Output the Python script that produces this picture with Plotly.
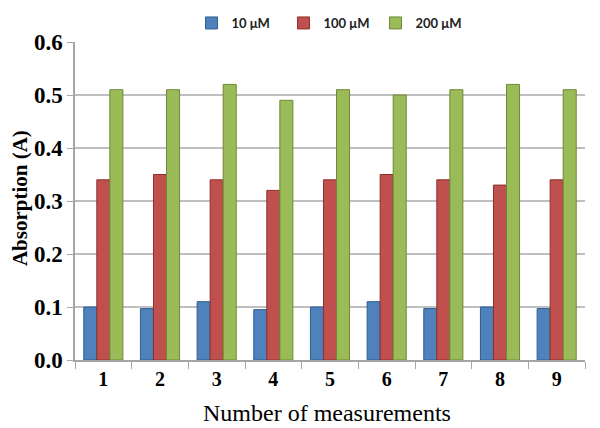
import plotly.graph_objects as go

categories = ["1", "2", "3", "4", "5", "6", "7", "8", "9"]
series_names = ["10 \u03bcM", "100 \u03bcM", "200 \u03bcM"]
vals_10 = [0.100, 0.097, 0.110, 0.095, 0.100, 0.110, 0.097, 0.100, 0.097]
vals_100 = [0.34, 0.35, 0.34, 0.32, 0.34, 0.35, 0.34, 0.33, 0.34]
vals_200 = [0.51, 0.51, 0.52, 0.49, 0.51, 0.50, 0.51, 0.52, 0.51]
colors = ["#4F81BD", "#C0504D", "#9BBB59"]
edge_colors = ["#2F5F8F", "#8E2F2C", "#6B8A35"]

fig = go.Figure()
for name, vals, c, ec in zip(series_names, [vals_10, vals_100, vals_200], colors, edge_colors):
    fig.add_trace(go.Bar(x=categories, y=vals, name=name,
                         marker=dict(color=c, line=dict(color=ec, width=1))))

# page body has an 8px margin, so the figure is sized 592x420
fig.update_layout(
    width=592, height=420,
    margin=dict(l=67, r=15, t=34, b=68, autoexpand=False),
    paper_bgcolor="white", plot_bgcolor="white",
    barmode="group", bargap=0.31, bargroupgap=0.0,
    showlegend=True,
    legend=dict(orientation="h", x=0.31, xanchor="left", xref="container",
                y=1.0, yanchor="top", yref="container",
                font=dict(family="Lato", size=13, color="#222", weight="bold"),
                entrywidth=47, entrywidthmode="pixels",
                tracegroupgap=0, traceorder="normal", itemwidth=30),
    xaxis=dict(type="category", showline=True, linecolor="#A6A6A6", linewidth=1.5,
               ticks="outside", tickson="boundaries", tickcolor="#A6A6A6", ticklen=7,
               tickfont=dict(family="Liberation Serif", size=20, color="black", weight="bold")),
    yaxis=dict(range=[0, 0.6], dtick=0.1, tickformat=".1f", showline=True,
               linecolor="#A6A6A6", linewidth=1.5, ticks="outside", tickcolor="#A6A6A6",
               ticklen=6, showgrid=True, gridcolor="#BFBFBF", gridwidth=1.5,
               tickfont=dict(family="Liberation Serif", size=23, color="black", weight="bold")),
    annotations=[
        dict(text="Number of measurements", xref="paper", yref="paper",
             x=0.495, y=-0.167, xanchor="center", yanchor="middle", showarrow=False,
             font=dict(family="Liberation Serif", size=24, color="black")),
        dict(text="Absorption (A)", xref="paper", yref="paper",
             x=-0.108, y=0.509, xanchor="center", yanchor="middle", showarrow=False,
             textangle=-90,
             font=dict(family="Liberation Serif", size=21, color="black", weight="bold")),
    ],
)

fig.write_html("out.html")
